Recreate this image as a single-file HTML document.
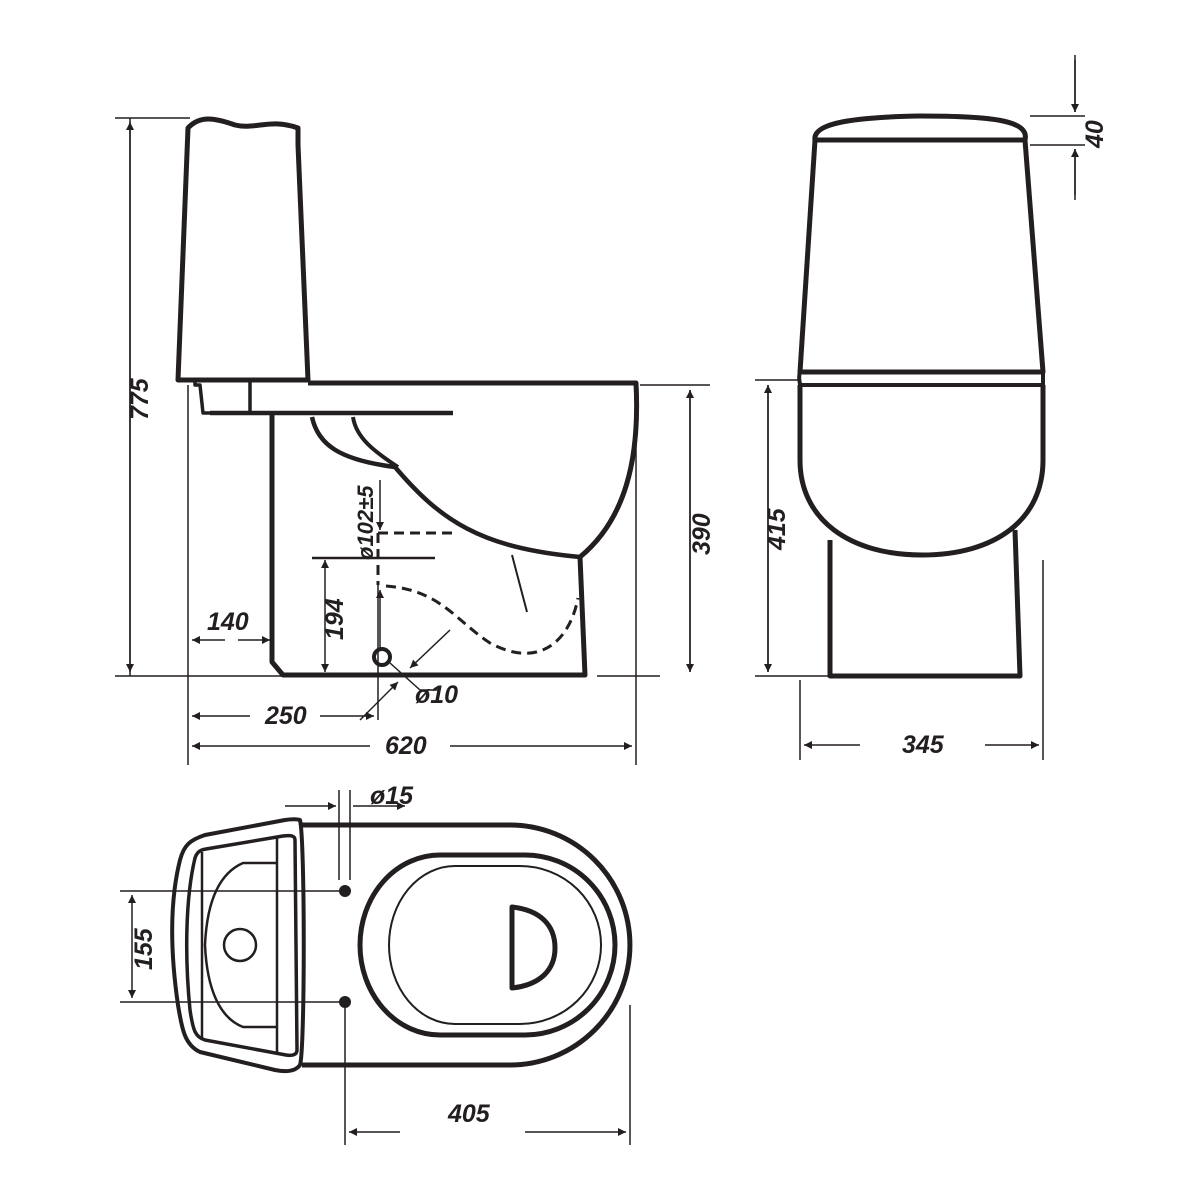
<!DOCTYPE html>
<html><head><meta charset="utf-8"><style>
html,body{margin:0;padding:0;background:#fff;}
svg{display:block}
text{font-family:"Liberation Sans",Arial,sans-serif;font-weight:bold;font-style:italic;font-size:25px;fill:#231f20}
</style></head><body>
<svg width="1200" height="1199" viewBox="0 0 1200 1199" xmlns="http://www.w3.org/2000/svg">
<defs>
<marker id="a" viewBox="0 0 10 10" refX="10" refY="5" markerWidth="10" markerHeight="8" orient="auto-start-reverse" markerUnits="userSpaceOnUse"><path d="M0,0 L10,5 L0,10 z" fill="#231f20"/></marker>
</defs>
<g fill="none" stroke="#231f20" stroke-linejoin="round">
<path d="M188,128 C200,115 215,118 235,125 C255,130 270,118 298,128 L298,145 L308,380 L178,380 L188,128 Z" stroke-width="5"/>
<path d="M195,380 L195,385 L200,385 L203,413 L250,413 L250,380" stroke-width="3.5"/>
<path d="M210,413 L453,413" stroke-width="4.5"/>
<path d="M308,383 L636,383 C640,460 625,520 580,557 L585,675 L283,675 L272,662 L272,415" stroke-width="5"/>
<path d="M312,417 C318,445 340,460 395,467 C440,520 480,548 580,557" stroke-width="4.5"/>
<path d="M353,417 C356,438 375,452 398,467" stroke-width="4"/>
<path d="M512,555 L527,612" stroke-width="2"/>
<path d="M378,533 L455,533 M378,533 L378,585 M386,586 C440,590 455,620 490,643 C540,670 570,640 578,598" stroke-width="3" stroke-dasharray="10,6"/>
<path d="M312,558 L435,558" stroke-width="2.5"/>
<circle cx="382" cy="657" r="8" stroke-width="4"/>
<g stroke-width="1.5">
<path d="M115,118 L190,118 M115,676 L283,676 M130,118 L130,676" />
<path d="M130,122 L130,672" marker-start="url(#a)" marker-end="url(#a)"/>
<path d="M188,385 L188,765 M636,385 L636,765 M597,676 L660,676 M640,385 L710,385 M690,390 L690,672" />
<path d="M690,390 L690,672" marker-start="url(#a)" marker-end="url(#a)"/>
<path d="M192,640 L225,640" marker-start="url(#a)"/>
<path d="M238,640 L270,640" marker-end="url(#a)"/>
<path d="M325,560 L325,672" marker-start="url(#a)" marker-end="url(#a)"/>
<path d="M380,480 L380,530" marker-end="url(#a)"/>
<path d="M380,650 L380,590" marker-end="url(#a)"/>
<path d="M378,585 L378,720"/>
<path d="M192,716 L250,716" marker-start="url(#a)"/>
<path d="M320,716 L374,716" marker-end="url(#a)"/>
<path d="M192,746 L370,746" marker-start="url(#a)"/>
<path d="M450,746 L632,746" marker-end="url(#a)"/>
<path d="M390,663 L420,690 L440,690"/>
<path d="M450,630 L410,668" marker-end="url(#a)"/>
<path d="M360,720 L398,682" marker-end="url(#a)"/>
</g>
<path d="M815,140 C812,122 860,117 920,116 C990,116 1030,120 1025,140 Z" stroke-width="5"/>
<path d="M815,140 L800,372 L1043,372 L1025,140" stroke-width="5"/>
<path d="M800,372 C798,378 800,382 800,385 L1043,385 L1043,372" stroke-width="4"/>
<path d="M800,385 L800,460 C800,520 850,555 922,555 C995,555 1043,520 1043,460 L1043,385" stroke-width="5"/>
<path d="M830,540 L830,676 L1020,676 L1015,530" stroke-width="5"/>
<g stroke-width="1.5">
<path d="M1030,116 L1085,116 M1030,145 L1085,145 M1075,55 L1075,112 M1075,200 L1075,149" />
<path d="M1075,60 L1075,112" marker-end="url(#a)"/>
<path d="M1075,195 L1075,149" marker-end="url(#a)"/>
<path d="M755,380 L800,380 M755,676 L830,676 M768,385 L768,672"/>
<path d="M768,385 L768,672" marker-start="url(#a)" marker-end="url(#a)"/>
<path d="M800,680 L800,760 M1043,560 L1043,760"/>
<path d="M804,745 L860,745" marker-start="url(#a)"/>
<path d="M985,745 L1039,745" marker-end="url(#a)"/>
</g>
<path d="M302,825 L510,825 A120,120 0 0 1 510,1065 L302,1065" stroke-width="5"/>
<path d="M300,820 C305,840 305,1050 300,1065 C295,1072 285,1072 275,1070 L200,1052 C185,1045 182,1030 178,1005 C170,950 170,900 180,860 C184,845 190,840 205,835 L285,820 C292,819 297,819 300,820 Z" stroke-width="4"/>
<path d="M295,840 L297,1050 C297,1055 292,1056 286,1055 L205,1040 C195,1037 193,1030 190,1010 C185,960 185,900 195,858 C197,852 200,850 206,849 L283,836 C292,835 295,836 295,840 Z" stroke-width="3.5"/>
<path d="M202,852 L202,1038 M277,838 L277,1052" stroke-width="2.5"/>
<path d="M277,863 L243,863 C220,873 207,900 205,945 C207,990 220,1018 243,1027 L277,1027" stroke-width="2.5"/>
<circle cx="240" cy="945" r="16" stroke-width="2.5"/>
<path d="M440,855 L525,855 A90,90 0 0 1 525,1035 L440,1035 A80,90 0 0 1 440,855 Z" stroke-width="5"/>
<path d="M455,866 L520,866 A80,78 0 0 1 520,1024 L455,1024 A66,79 0 0 1 455,866 Z" stroke-width="2"/>
<path d="M512,907 C540,910 555,925 555,948 C555,970 540,985 512,988 Z" stroke-width="5"/>
<circle cx="345" cy="891" r="6" fill="#231f20" stroke="none"/>
<circle cx="345" cy="1002" r="6" fill="#231f20" stroke="none"/>
<g stroke-width="1.5">
<path d="M120,891 L340,891 M120,1002 L340,1002"/>
<path d="M132,895 L132,998" marker-start="url(#a)" marker-end="url(#a)"/>
<path d="M339,790 L339,880 M350,790 L350,880 M345,1008 L345,1145 M630,1005 L630,1145"/>
<path d="M285,806 L336,806" marker-end="url(#a)"/>
<path d="M405,806 L353,806" marker-start="url(#a)"/>
<path d="M349,1132 L400,1132" marker-start="url(#a)"/>
<path d="M525,1132 L626,1132" marker-end="url(#a)"/>
</g>
</g>
<g>
<text transform="translate(148,420) rotate(-90)">775</text>
<text x="207" y="630">140</text>
<text transform="translate(343,640) rotate(-90)">194</text>
<text transform="translate(373,560) rotate(-90)" style="font-size:22px">ø102±5</text>
<text x="415" y="703">ø10</text>
<text x="265" y="724">250</text>
<text x="385" y="754">620</text>
<text transform="translate(710,555) rotate(-90)">390</text>
<text transform="translate(785,550) rotate(-90)">415</text>
<text transform="translate(1103,148) rotate(-90)">40</text>
<text x="902" y="753">345</text>
<text x="370" y="804">ø15</text>
<text transform="translate(152,970) rotate(-90)">155</text>
<text x="448" y="1122">405</text>
</g>
</svg>
</body></html>
